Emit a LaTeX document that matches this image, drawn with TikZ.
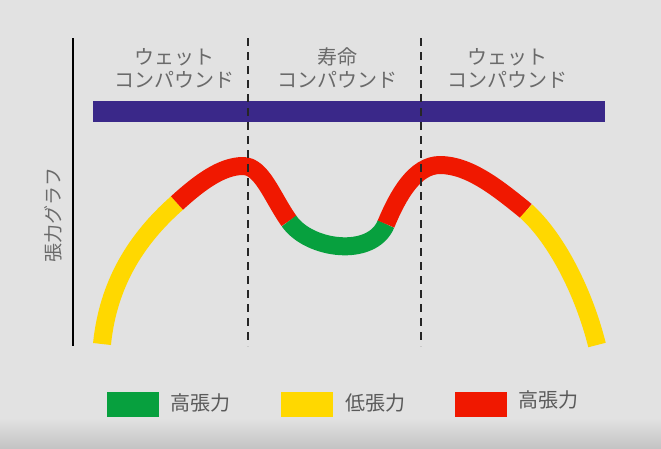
\documentclass[tikz,border=0pt]{standalone}
\usepackage{fontspec}
\newfontfamily\jp{Noto Sans CJK JP}
\definecolor{bg}{HTML}{E2E2E2}
\definecolor{bgdark}{HTML}{C4C4C4}
\definecolor{barc}{HTML}{3A2889}
\definecolor{cgrn}{HTML}{07A03E}
\definecolor{cyel}{HTML}{FFD800}
\definecolor{cred}{HTML}{F01800}
\definecolor{txt}{HTML}{6A6A6A}
\definecolor{legtxt}{HTML}{5A5A5A}
\tikzset{
  curve/.style={line width=18pt, line cap=butt, line join=round},
  divider/.style={line width=1.3pt, dash pattern=on 8pt off 6pt, black!85},
  hdr/.style={align=center, text=txt, font=\jp\fontsize{20}{23}\selectfont, inner sep=0pt},
  legbox/.style={minimum width=52pt, minimum height=25pt, inner sep=0pt, draw=none},
  legtext/.style={anchor=west, text=legtxt, font=\jp\fontsize{20}{24}\selectfont, inner sep=0pt}
}
\begin{document}
\begin{tikzpicture}[x=1pt,y=-1pt]
\useasboundingbox (0,0) rectangle (661,448);
\fill[bg] (0,0) rectangle (661,448);
\shade[top color=bg, bottom color=bgdark] (0,418) rectangle (661,448);

% headers
\node[hdr] (h1) at (174,68) {ウェット\\コンパウンド};
\node[hdr] (h2) at (337,68) {寿命\\コンパウンド};
\node[hdr] (h3) at (507,68) {ウェット\\コンパウンド};

% bar
\node[fill=barc, minimum width=512pt, minimum height=21pt, inner sep=0pt] (bar) at (349,111.5) {};

% axis
\coordinate (axtop) at (73,38);
\coordinate (axbot) at (73,346);
\draw[line width=1.5pt, black] (axtop) -- (axbot);
\node[rotate=90, text=txt, font=\jp\fontsize{19}{22}\selectfont, inner sep=0pt] (ylab) at (53,215) {張力グラフ};

% curve
\coordinate (p0) at (102,344);
\coordinate (p1) at (177,203);
\coordinate (p2) at (243,166);
\coordinate (p3) at (289,221);
\coordinate (p4) at (386,224);
\coordinate (p5) at (440,165);
\coordinate (p6) at (526,211);
\coordinate (p7) at (597,345);
\draw[curve, cyel] (p0) .. controls (108,285) and (135,240) .. (p1);
\draw[curve, cred] (p1) .. controls (200,182) and (222,166) .. (p2) .. controls (262,166) and (272,197) .. (p3);
\draw[curve, cgrn] (p3) .. controls (309,250) and (372,258) .. (p4);
\draw[curve, cred] (p4) .. controls (398,195) and (415,165) .. (p5) .. controls (470,165) and (500,190) .. (p6);
\draw[curve, cyel] (p6) .. controls (557,239) and (584,293) .. (p7);

% dividers
\coordinate (d1t) at (248,38);
\coordinate (d1b) at (248,346);
\coordinate (d2t) at (421,38);
\coordinate (d2b) at (421,346);
\draw[divider] (d1t) -- (d1b);
\draw[divider] (d2t) -- (d2b);

% legend
\node[legbox, fill=cgrn] (lg1) at (133,404.5) {};
\node[legtext] (lt1) at (170,403) {高張力};
\node[legbox, fill=cyel] (lg2) at (307,404.5) {};
\node[legtext] (lt2) at (345,403) {低張力};
\node[legbox, fill=cred] (lg3) at (480.5,404.5) {};
\node[legtext] (lt3) at (518,400) {高張力};
\end{tikzpicture}
\end{document}
